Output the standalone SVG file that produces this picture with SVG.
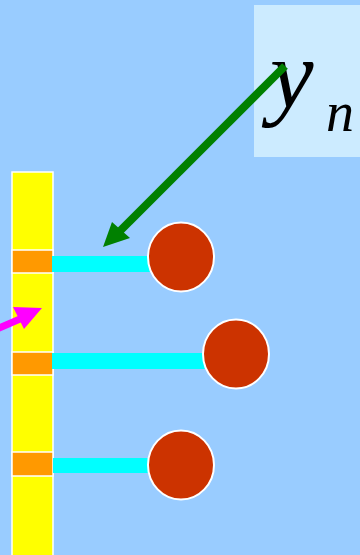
<svg xmlns="http://www.w3.org/2000/svg" width="360" height="555" viewBox="0 0 360 555">
<style>
.bar{fill:#FFFF00;stroke:#FFFFFF;stroke-width:1.5}
.seg{fill:#FF9900;stroke:#FFFFFF;stroke-width:1.5}
.link{fill:#00FFFF}
.ball{fill:#CC3300;stroke:#FFFFFF;stroke-width:2}
.math{font-family:"Liberation Serif",serif;font-style:italic;fill:#000}
</style>
<rect width="360" height="555" fill="#99CCFF"/>
<g id="label">
<rect x="254" y="5" width="106" height="152" fill="#CCEBFF"/>
<text class="math" x="270" y="107" font-size="98">y</text>
<text class="math" x="326" y="131" font-size="56">n</text>
</g>
<g id="bar">
<rect class="bar" x="12" y="172" width="41" height="390"/>
</g>
<g id="seg1"><rect class="seg" x="12" y="250" width="41" height="23"/></g>
<g id="seg2"><rect class="seg" x="12" y="352" width="41" height="23"/></g>
<g id="seg3"><rect class="seg" x="12" y="452" width="41" height="24"/></g>
<g id="connectors">
<rect class="link" x="52" y="256" width="100" height="16"/>
<rect class="link" x="52" y="353" width="155" height="16"/>
<rect class="link" x="53" y="458" width="98" height="15"/>
<line x1="285" y1="66" x2="118" y2="233" stroke="#008000" stroke-width="8"/>
<path d="M103,247 L112,222 L130,238 Z" fill="#008000"/>
<line x1="-10" y1="332" x2="20" y2="319" stroke="#FF00FF" stroke-width="7"/>
<path d="M42,308 L13,307 L24,329 Z" fill="#FF00FF"/>
</g>
<g id="ball1"><ellipse class="ball" cx="181" cy="257" rx="33" ry="34.5"/></g>
<g id="ball2"><ellipse class="ball" cx="236" cy="354" rx="33" ry="34.5"/></g>
<g id="ball3"><ellipse class="ball" cx="181" cy="465" rx="33" ry="34.5"/></g>
</svg>
